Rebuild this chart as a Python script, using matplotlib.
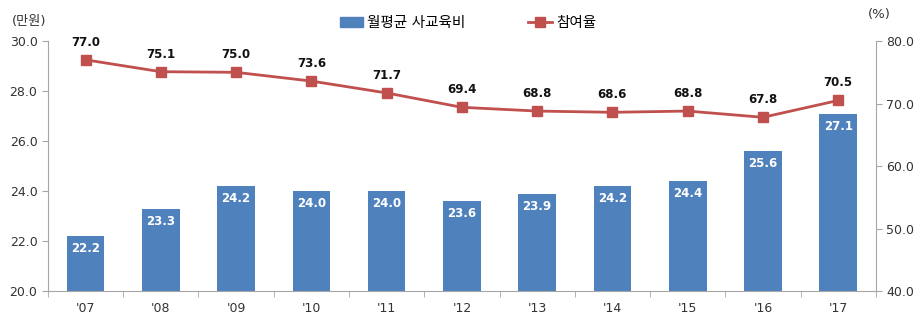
import matplotlib
matplotlib.use("Agg")
import matplotlib.pyplot as plt
from matplotlib.lines import Line2D
from matplotlib.patches import Patch

plt.rcParams['font.family'] = ['DejaVu Sans', 'Noto Sans CJK KR']

years = ["'07", "'08", "'09", "'10", "'11", "'12", "'13", "'14", "'15", "'16", "'17"]
spending = [22.2, 23.3, 24.2, 24.0, 24.0, 23.6, 23.9, 24.2, 24.4, 25.6, 27.1]
participation = [77.0, 75.1, 75.0, 73.6, 71.7, 69.4, 68.8, 68.6, 68.8, 67.8, 70.5]
left_ticks = [20.0, 22.0, 24.0, 26.0, 28.0, 30.0]
right_ticks = [40.0, 50.0, 60.0, 70.0, 80.0]

bar_color = '#4F81BD'
line_color = '#C0504D'
axis_color = '#A6A6A6'
text_color = '#333333'

fig = plt.figure(figsize=(9.21, 3.25), dpi=100)
ax = fig.add_axes([0.052, 0.1046, 0.899, 0.769])
ax2 = ax.twinx()

x = list(range(len(years)))
ax.bar(x, spending, width=0.5, color=bar_color, zorder=2)
ax.set_ylim(20, 30)
ax.set_xlim(-0.5, len(years) - 0.5)
ax.set_yticks(left_ticks)
ax.set_yticklabels([f'{v:.1f}' for v in left_ticks])
ax.set_xticks(x)
ax.set_xticklabels(years)
ax.set_xticks([i + 0.5 for i in range(-1, len(years))], minor=True)
ax.tick_params(axis='x', which='major', length=0, pad=8, labelsize=9, colors=text_color)
ax.tick_params(axis='x', which='minor', length=4, color=axis_color)
ax.tick_params(axis='y', length=4, color=axis_color, labelsize=9, labelcolor=text_color)

for i, v in enumerate(spending):
    ax.text(i, v - 0.25, f'{v:.1f}', ha='center', va='top', color='white',
            fontsize=8.5, fontweight='bold', zorder=3)

ax2.plot(x, participation, color=line_color, lw=2, marker='s', ms=6.5, zorder=4)
ax2.set_ylim(40, 80)
ax2.set_yticks(right_ticks)
ax2.set_yticklabels([f'{v:.1f}' for v in right_ticks])
ax2.tick_params(axis='y', length=4, color=axis_color, labelsize=9, labelcolor=text_color)
for i, v in enumerate(participation):
    ax2.annotate(f'{v:.1f}', (i, v), xytext=(0, 8), textcoords='offset points',
                 ha='center', va='bottom', fontsize=8.5, fontweight='bold', color='#111111')

for a in (ax, ax2):
    a.spines['top'].set_visible(False)
    for s in ('left', 'right', 'bottom'):
        a.spines[s].set_color(axis_color)
ax.spines['right'].set_visible(False)
ax2.spines['left'].set_visible(False)
ax2.spines['bottom'].set_visible(False)

fig.text(0.013, 0.935, '(만원)', fontsize=9.5, color=text_color, ha='left', va='center')
fig.text(0.942, 0.955, '(%)', fontsize=9.5, color=text_color, ha='left', va='center')

handles = [Patch(color=bar_color),
           Line2D([0], [0], color=line_color, lw=2, marker='s', ms=6.5)]
fig.legend(handles, ['월평균 사교육비', '참여율'], loc='center', bbox_to_anchor=(0.508, 0.93),
           ncol=2, frameon=False, fontsize=10.5, columnspacing=4.3, handlelength=1.6,
           handletextpad=0.3)

fig.savefig('out.png', dpi=100)
